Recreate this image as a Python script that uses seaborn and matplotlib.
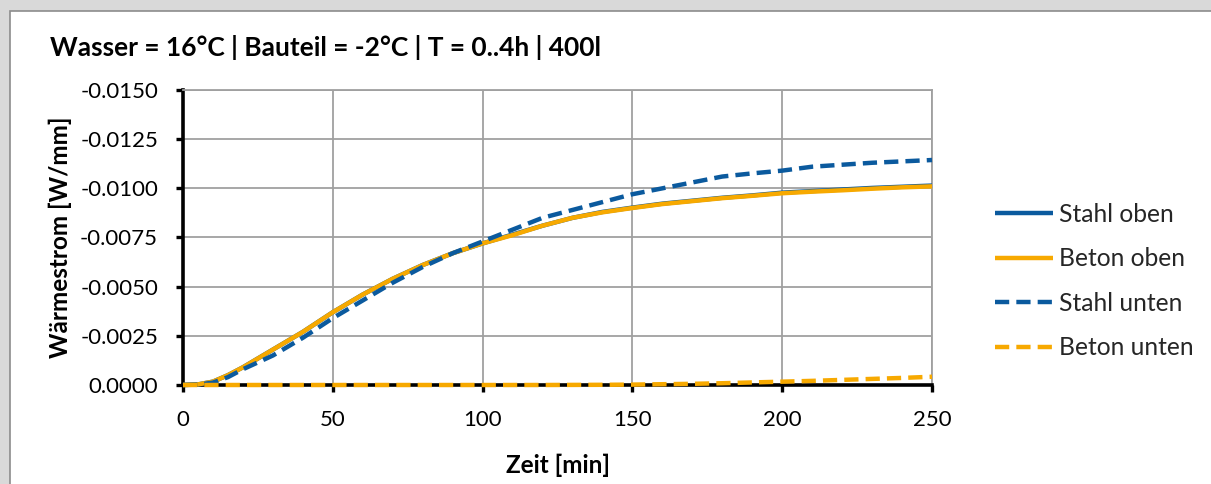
import matplotlib
matplotlib.use("Agg")
import matplotlib.pyplot as plt
from matplotlib.patches import Rectangle
from matplotlib.ticker import FuncFormatter, MultipleLocator
import numpy as np
import pandas as pd
import seaborn as sns

# Zeitachse [min]
zeit = [0, 5, 10, 15, 20, 30, 40, 50, 60, 70, 80, 90, 100, 110, 120, 130,
        140, 150, 160, 170, 180, 190, 200, 210, 220, 230, 240, 250]

# Wärmestrom [W/mm]
stahl_oben = [0.0, -0.00003, -0.00017, -0.0005, -0.0009, -0.0018, -0.0027,
              -0.0037, -0.0046, -0.0054, -0.0061, -0.0067, -0.0072, -0.00765,
              -0.0081, -0.0085, -0.0088, -0.00902, -0.00922, -0.00937,
              -0.00952, -0.00964, -0.00978, -0.00986, -0.00994, -0.01002,
              -0.01008, -0.01014]
beton_oben = [0.0, -0.00003, -0.00017, -0.0005, -0.0009, -0.0018, -0.0027,
              -0.0037, -0.0046, -0.0054, -0.0061, -0.0067, -0.0072, -0.00762,
              -0.0081, -0.0085, -0.00878, -0.009, -0.0092, -0.00935,
              -0.0095, -0.00962, -0.00975, -0.00983, -0.0099, -0.00998,
              -0.01005, -0.0101]
stahl_unten = [0.0, -0.00002, -0.00012, -0.0004, -0.0008, -0.0015, -0.0024,
               -0.0034, -0.0043, -0.0052, -0.006, -0.0067, -0.0073, -0.0079,
               -0.0085, -0.0089, -0.0093, -0.0097, -0.0100, -0.0103,
               -0.0106, -0.01076, -0.0109, -0.0111, -0.0112, -0.0113,
               -0.01137, -0.01144]
beton_unten = [0.0, 0.0, 0.0, 0.0, 0.0, 0.0, 0.0, 0.0, 0.0, 0.0, 0.0, 0.0,
               0.0, 0.0, 0.0, -0.000005, -0.00001, -0.00002, -0.00004,
               -0.00006, -0.00009, -0.00013, -0.00017, -0.00021, -0.00026,
               -0.00031, -0.00036, -0.00042]

serien = ["Stahl oben", "Beton oben", "Stahl unten", "Beton unten"]
werte = [stahl_oben, beton_oben, stahl_unten, beton_unten]

y_ticks = [0.0, -0.0025, -0.005, -0.0075, -0.01, -0.0125, -0.015]

titel = "Wasser = 16°C | Bauteil = -2°C | T = 0..4h | 400l"

BLAU = "#0b5a9e"
ORANGE = "#f7a900"
GRID = "#a0a0a0"

sns.set_theme(style="white")
plt.rcParams["font.family"] = ["Lato", "DejaVu Sans"]

df = pd.DataFrame({
    "Zeit": np.tile(zeit, len(serien)),
    "Wert": np.concatenate(werte),
    "Serie": np.repeat(serien, len(zeit)),
})

fig = plt.figure(figsize=(12.11, 4.84), dpi=100)
fig.patch.set_facecolor("#d9d9d9")
fig.patches.append(Rectangle((10 / 1211, -0.1), 1.2, 1 - 11 / 484 + 0.1,
                             transform=fig.transFigure, facecolor="white",
                             edgecolor="#8c8c8c", linewidth=1.2, zorder=-5))

ax = fig.add_axes([183 / 1211, 1 - 385 / 484, (932 - 183) / 1211, (385 - 90) / 484])
ax.set_zorder(2)
ax.set_facecolor("white")

stile = {
    "Stahl oben": dict(color=BLAU, dashes=None),
    "Beton oben": dict(color=ORANGE, dashes=None),
    "Stahl unten": dict(color=BLAU, dashes=(3.2, 1.6)),
    "Beton unten": dict(color=ORANGE, dashes=(3.2, 1.6)),
}
for i, s in enumerate(serien):
    sub = df[df["Serie"] == s]
    st = stile[s]
    sns.lineplot(data=sub, x="Zeit", y="Wert", color=st["color"], linewidth=3.2,
                 label=s, ax=ax, zorder=3 + i)
    ln = ax.lines[-1]
    if st["dashes"] is not None:
        ln.set_dashes(st["dashes"])
        ln.set_dash_capstyle("butt")
    ln.set_solid_capstyle("butt")
    ln.set_clip_on(False)

ax.set_xlim(0, 250)
ax.set_ylim(0, -0.015)
ax.xaxis.set_major_locator(MultipleLocator(50))
ax.set_yticks(y_ticks)
ax.yaxis.set_major_formatter(
    FuncFormatter(lambda v, p: f"{abs(v):.4f}" if abs(v) < 1e-12 else f"{v:.4f}"))

ax.grid(True, color=GRID, linewidth=1.3)
ax.set_axisbelow(True)
for side in ("top", "right"):
    ax.spines[side].set_color(GRID)
    ax.spines[side].set_linewidth(1.3)
for side in ("left", "bottom"):
    ax.spines[side].set_color("black")
    ax.spines[side].set_linewidth(2.6)
    ax.spines[side].set_zorder(2.5)

ax.tick_params(axis="both", which="major", direction="out", length=5, width=2.4,
               color="black", labelsize=16, labelcolor="black",
               left=True, bottom=True)
ax.tick_params(axis="x", pad=13)
ax.tick_params(axis="y", pad=13)

ax.set_xlabel("Zeit [min]", fontsize=17.5, fontweight="bold", color="black", labelpad=17)
ax.set_ylabel("Wärmestrom [W/mm]", fontsize=17.5, fontweight="bold", color="black", labelpad=6)

fig.text(50 / 1211, 1 - 48 / 484, titel, fontsize=19, fontweight="bold",
         color="black", ha="left", va="center")

handles = ax.lines[:4]
if ax.get_legend() is not None:
    ax.get_legend().remove()
fig.legend(handles, serien, loc="center left",
           bbox_to_anchor=(973 / 1211, 1 - 281 / 484), frameon=False,
           fontsize=17.7, handlelength=2.36, handletextpad=0.25,
           labelspacing=0.88)

fig.savefig("out.png", dpi=100, facecolor=fig.get_facecolor())
